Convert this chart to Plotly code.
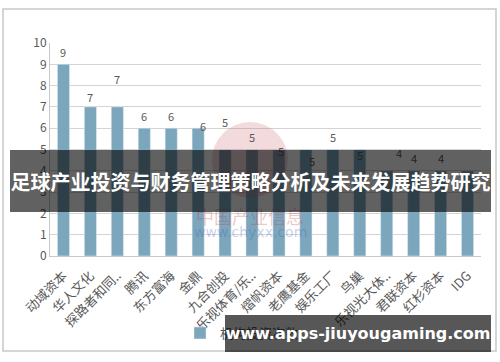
import plotly.graph_objects as go

categories = ["动域资本", "华人文化", "探路者和同..", "腾讯", "东方富海", "金鼎", "九合创投",
              "乐视体育/乐..", "熠帆资本", "老鹰基金", "娱乐工厂", "鸟巢", "乐视光大体..",
              "君联资本", "红杉资本", "IDG"]
counts = [9, 7, 7, 6, 6, 6, 5, 5, 5, 5, 5, 5, 4, 4, 4, 4]
value_labels = ["9", "7", "7", "6", "6", "6", "5", "5", "5", "5", "5", "5", "4", "4", "4", ""]
y_ticks = [0, 1, 2, 3, 4, 5, 6, 7, 8, 9, 10]
series_name = "机构投资次数"
title_banner = "足球产业投资与财务管理策略分析及未来发展趋势研究"
site_banner = "www.apps-jiuyougaming.com"

# label pixel offsets (style only)
label_dy = [12, 10, 28, 12, 12, 2, 28, 13, -1, -11, 13, -5, 18, 13, 13, 10]
label_dx = [0, 0, 0, 0, 0, 5, 0, 0, 2, 6, 0, 0, 12, 0, 0, 0]

FONT = "Noto Sans CJK SC"
BAR = "#7ba6bc"
GRAY = "#595959"

fig = go.Figure()
fig.add_trace(go.Bar(x=categories, y=counts, name=series_name, marker_color=BAR,
                     showlegend=True, hoverinfo="skip"))

annotations = []
for c, v, t, dy, dx in zip(categories, counts, value_labels, label_dy, label_dx):
    if t:
        annotations.append(dict(x=c, y=v, xref="x", yref="y", text=t, showarrow=False,
                                yanchor="middle", yshift=dy, xshift=dx,
                                font=dict(family=FONT, size=11, color=GRAY)))

def px_x(p):
    return (p - 50) / 431.0

def px_y(q):
    return (256 - q) / 213.0

# watermark text
annotations.append(dict(x=px_x(250), y=px_y(216), xref="paper", yref="paper",
                        xanchor="center", yanchor="middle",
                        text="中国产业信息", showarrow=False,
                        font=dict(family=FONT, size=18, color="rgba(200,60,70,0.30)")))
annotations.append(dict(x=px_x(250), y=px_y(232), xref="paper", yref="paper",
                        xanchor="center", yanchor="middle",
                        text="www.chyxx.com", showarrow=False,
                        font=dict(family="DejaVu Sans", size=14, color="rgba(60,100,180,0.30)")))

# banners (annotations so they sit above the labels)
annotations.append(dict(x=px_x(250.5), y=px_y(181), xref="paper", yref="paper",
                        xanchor="center", yanchor="middle",
                        text="<b>" + title_banner + "</b>", showarrow=False,
                        width=481, height=62, bgcolor="rgba(0,0,0,0.62)",
                        borderpad=0, borderwidth=0, align="center", valign="middle",
                        font=dict(family=FONT, size=20, color="white")))
annotations.append(dict(x=px_x(358), y=px_y(333.5), xref="paper", yref="paper",
                        xanchor="center", yanchor="middle",
                        text="<b>" + site_banner + "</b>", showarrow=False,
                        width=266, height=37, bgcolor="rgba(0,0,0,0.66)",
                        borderpad=0, borderwidth=0, align="center", valign="middle",
                        font=dict(family="DejaVu Sans", size=16, color="white")))

shapes = [
    dict(type="rect", xref="paper", yref="paper", x0=px_x(3), x1=px_x(496),
         y0=px_y(351), y1=px_y(9), line=dict(color="#c8c8c8", width=1.5),
         fillcolor="rgba(0,0,0,0)", layer="below"),
    dict(type="circle", xref="paper", yref="paper", x0=px_x(212), x1=px_x(288),
         y0=px_y(198), y1=px_y(122), line=dict(width=0),
         fillcolor="rgba(200,90,100,0.22)", layer="above"),
]

fig.update_layout(
    width=500, height=362,
    margin=dict(l=50, r=19, t=43, b=106),
    paper_bgcolor="white", plot_bgcolor="white",
    font=dict(family=FONT, size=11, color=GRAY),
    bargap=0.55,
    showlegend=True,
    legend=dict(orientation="h", x=px_x(180), y=px_y(333), xanchor="left", yanchor="middle",
                font=dict(family=FONT, size=13, color=GRAY), bgcolor="rgba(0,0,0,0)"),
    annotations=annotations,
    shapes=shapes,
)
fig.update_yaxes(range=[0, 10], tickvals=y_ticks, showgrid=True, gridcolor="#d4d4d4",
                 gridwidth=1, showline=True, linecolor="#c8c8c8", linewidth=1,
                 ticks="", tickfont=dict(size=12, color=GRAY), zeroline=False, fixedrange=True)
fig.update_xaxes(tickangle=-45, showline=True, linecolor="#c8c8c8", linewidth=1, ticks="",
                 tickfont=dict(size=13, color=GRAY), showgrid=False, ticklabelstandoff=6)

fig.write_html("out.html")
